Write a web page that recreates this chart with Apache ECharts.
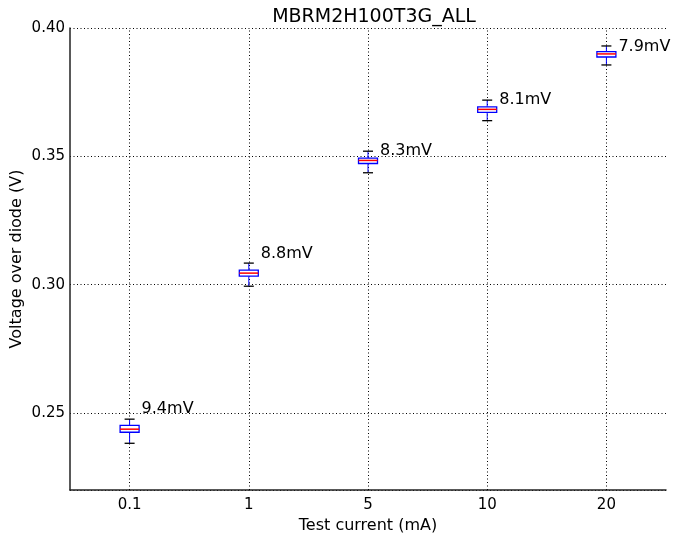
<!DOCTYPE html>
<html>
<head>
<meta charset="utf-8">
<script src="https://cdn.jsdelivr.net/npm/echarts@6/dist/echarts.min.js"></script>
<style>
  html, body { margin: 0; padding: 0; background: #fff; }
  #main { width: 673px; height: 533px; }
</style>
</head>
<body>
<div id="main"></div>
<script>
var categories = ['0.1', '1', '5', '10', '20'];
// whisker low, Q1, median, Q3, whisker high (V)
var lowVals = [0.2382, 0.2994, 0.3436, 0.3639, 0.3856];
var q1Vals = [0.2425, 0.3033, 0.3472, 0.3671, 0.3887];
var medVals = [0.2437, 0.3045, 0.3484, 0.3683, 0.3899];
var q3Vals = [0.2452, 0.3057, 0.3493, 0.3693, 0.3908];
var highVals = [0.2476, 0.3084, 0.3520, 0.3719, 0.3930];
var noteText = ['9.4mV', '8.8mV', '8.3mV', '8.1mV', '7.9mV'];
var noteAt = [0.2518, 0.3119, 0.3520, 0.3719, 0.3926];

var font = 'DejaVu Sans';
var dots = { color: '#000', width: 1, type: [1, 2.5] };

var boxData = categories.map(function (c, i) {
  return [i, lowVals[i], q1Vals[i], medVals[i], q3Vals[i], highVals[i], noteAt[i]];
});

function renderBox(params, api) {
  var x = api.value(0);
  var lo = api.coord([x, api.value(1)]);
  var q1 = api.coord([x, api.value(2)]);
  var md = api.coord([x, api.value(3)]);
  var q3 = api.coord([x, api.value(4)]);
  var hi = api.coord([x, api.value(5)]);
  var nt = api.coord([x, api.value(6)]);
  var cx = lo[0], hw = 9.5, cw = 5;
  return {
    type: 'group',
    children: [
      { type: 'line', shape: { x1: cx, y1: hi[1], x2: cx, y2: q3[1] }, style: { stroke: '#0000ff', lineWidth: 1 } },
      { type: 'line', shape: { x1: cx, y1: q1[1], x2: cx, y2: lo[1] }, style: { stroke: '#0000ff', lineWidth: 1 } },
      { type: 'line', shape: { x1: cx - cw, y1: hi[1], x2: cx + cw, y2: hi[1] }, style: { stroke: '#000', lineWidth: 1.3 } },
      { type: 'line', shape: { x1: cx - cw, y1: lo[1], x2: cx + cw, y2: lo[1] }, style: { stroke: '#000', lineWidth: 1.3 } },
      { type: 'rect', shape: { x: cx - hw, y: q3[1], width: hw * 2, height: q1[1] - q3[1] }, style: { fill: '#fff', stroke: '#0000ff', lineWidth: 1.3 } },
      { type: 'line', shape: { x1: cx - hw, y1: md[1], x2: cx + hw, y2: md[1] }, style: { stroke: '#ff0000', lineWidth: 1.5 } },
      { type: 'text', x: cx + 12, y: nt[1], style: { text: noteText[params.dataIndex], fill: '#000', font: '16px "' + font + '"', verticalAlign: 'middle', align: 'left' } }
    ]
  };
}

var chart = echarts.init(document.getElementById('main'));
chart.setOption({
  animation: false,
  backgroundColor: '#fff',
  textStyle: { fontFamily: font },
  title: {
    text: 'MBRM2H100T3G_ALL',
    left: 369, top: 3, textAlign: 'center',
    textStyle: { fontFamily: font, fontSize: 19, fontWeight: 'normal', color: '#000' }
  },
  grid: { left: 70, right: 7, top: 28, bottom: 43, outerBoundsMode: 'none', containLabel: false },
  xAxis: {
    type: 'category',
    data: categories,
    boundaryGap: true,
    name: 'Test current (mA)',
    nameLocation: 'middle',
    nameGap: 24,
    nameTextStyle: { fontFamily: font, fontSize: 16, color: '#000' },
    axisLine: { lineStyle: { color: '#222', width: 1.5 } },
    axisTick: { show: false },
    axisLabel: { fontFamily: font, fontSize: 15, color: '#000', margin: 8 },
    splitLine: { show: false }
  },
  yAxis: {
    type: 'value',
    min: 0.22, max: 0.40,
    splitNumber: 4,
    name: 'Voltage over diode (V)',
    nameLocation: 'middle',
    nameGap: 45,
    nameMoveOverlap: false,
    nameTextStyle: { fontFamily: font, fontSize: 16, color: '#000' },
    axisLine: { show: true, lineStyle: { color: '#222', width: 1.5 } },
    axisTick: { show: false },
    axisLabel: {
      fontFamily: font, fontSize: 15, color: '#000', margin: 5,
      showMinLabel: false,
      formatter: function (v) { return v.toFixed(2); }
    },
    splitLine: { show: true, lineStyle: dots }
  },
  series: [{
    type: 'custom',
    renderItem: renderBox,
    data: boxData,
    encode: { x: 0, y: [1, 2, 3, 4, 5] },
    z: 5,
    markLine: {
      silent: true,
      symbol: 'none',
      label: { show: false },
      lineStyle: dots,
      z: 1,
      data: categories.map(function (c) { return { xAxis: c }; })
    }
  }]
});
</script>
</body>
</html>
